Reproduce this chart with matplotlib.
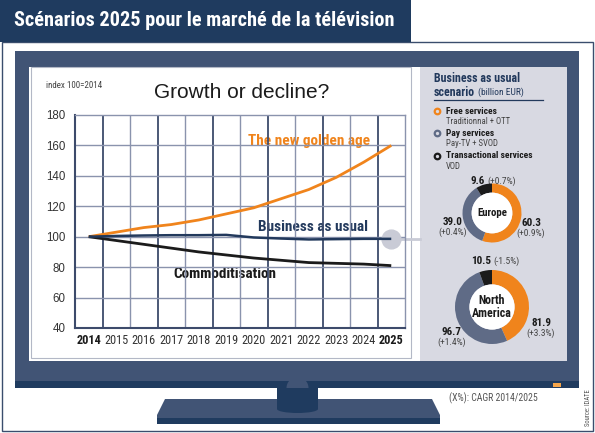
import matplotlib
matplotlib.use("Agg")
import matplotlib.pyplot as plt
from matplotlib import font_manager as fm
from matplotlib.patches import Rectangle, FancyBboxPatch, Polygon, Ellipse, Circle, Wedge
import numpy as np

W, H = 595, 433

# ── Data ─────────────────────────────────────────────────────────────────
years = [2014, 2015, 2016, 2017, 2018, 2019, 2020, 2021, 2022, 2023, 2024, 2025]
golden_age = [100, 103, 106, 108, 111, 115, 119, 125, 131, 139, 149, 160]
business_as_usual = [100, 100.5, 100.8, 101, 101, 101.2, 99.5, 98.8, 98.2, 98.4, 98.6, 98.6]
commoditisation = [100, 97.5, 95, 92.5, 90, 88, 86, 84.5, 83, 82.5, 82, 81]
y_ticks = [40, 60, 80, 100, 120, 140, 160, 180]

services = ["Free services", "Pay services", "Transactional services"]
service_notes = ["Traditionnal + OTT", "Pay-TV + SVOD", "VOD"]
europe_values = [60.3, 39.0, 9.6]
europe_cagr = [0.9, 0.4, 0.7]
na_values = [81.9, 96.7, 10.5]
na_cagr = [3.3, 1.4, -1.5]

# ── Style ────────────────────────────────────────────────────────────────
NAVY = "#1f3b5f"
TV = "#415475"
ORANGE = "#f0841c"
SLATE = "#5f6b86"
BLACK = "#1b1b1b"
PANEL = "#d8d9e2"
GRID_DARK = "#3d4b6b"
GRID_LIGHT = "#8a93ad"
BAU_BLUE = "#22395c"
SERVICE_COLORS = [ORANGE, SLATE, BLACK]
SANS = ["Liberation Sans", "DejaVu Sans"]


def pick_narrow():
    """Find a condensed sans face among the installed fonts."""
    entries = fm.fontManager.ttflist
    names = {e.name for e in entries}
    for pref in ["Liberation Sans Narrow", "DejaVu Sans Condensed", "Roboto Condensed",
                 "Open Sans Condensed", "Noto Sans Condensed"]:
        if pref in names:
            return pref, "normal", 1.0
    for e in entries:
        if "Narrow" in e.name or "Condensed" in e.name:
            return e.name, "normal", 1.0
    for e in entries:
        if str(e.stretch) in ("condensed", "semi-condensed", "extra-condensed"):
            return e.name, e.stretch, 1.0
    return "DejaVu Sans", "normal", 0.8


NARROW_NAME, NARROW_STRETCH, K = pick_narrow()
NK = dict(family=[NARROW_NAME, "DejaVu Sans"], fontstretch=NARROW_STRETCH)


def px_axes(fig, x0, y0, x1, y1):
    """Axes placed by pixel box (y measured from the top)."""
    return fig.add_axes([x0 / W, 1 - y1 / H, (x1 - x0) / W, (y1 - y0) / H])


fig = plt.figure(figsize=(W / 100, H / 100), dpi=100)
bg = fig.add_axes([0, 0, 1, 1])
bg.set_xlim(0, W)
bg.set_ylim(H, 0)
bg.axis("off")

# ── Frame, title tab, TV set ─────────────────────────────────────────────
bg.add_patch(Rectangle((1.5, 41.5), 591.5, 389.5, fc="white", ec="#3a4d6d", lw=1))
bg.add_patch(FancyBboxPatch((0, -12), 411, 54, boxstyle="round,pad=0,rounding_size=9",
                            fc=NAVY, ec="none"))
bg.add_patch(Rectangle((0, 28), 411, 14, fc=NAVY, ec="none"))
bg.text(14, 21, "Scénarios 2025 pour le marché de la télévision", color="white",
        fontsize=14.6 * K, fontweight="bold", va="center", ha="left", **NK)

# stand
bg.add_patch(Polygon([(165, 399), (432, 399), (440, 415), (440, 424), (157, 424), (157, 415)],
                     closed=True, fc=TV, ec="none"))
bg.add_patch(Rectangle((157, 418), 283, 6, fc=NAVY, ec="none"))
bg.add_patch(Rectangle((277, 386), 41, 23, fc=NAVY, ec="none"))
bg.add_patch(Ellipse((297.5, 409), 41, 8, fc=NAVY, ec="none"))

# body + screen
bg.add_patch(Rectangle((15, 51), 564, 337, fc=TV, ec="none"))
bg.add_patch(Rectangle((15, 381), 564, 7, fc=NAVY, ec="none"))
bg.add_patch(Wedge((297.5, 388), 11, 180, 360, fc=TV, ec="none"))
bg.add_patch(Rectangle((553, 383), 8, 4, fc="#f5a54a", ec="none"))
bg.add_patch(Rectangle((29, 67), 538, 294, fc="white", ec="none"))
bg.add_patch(Rectangle((420, 67), 147, 294, fc=PANEL, ec="none"))
bg.add_patch(Rectangle((30.5, 66.5), 380, 291, fc="white", ec="#b3b8c6", lw=0.8))

# ── Line chart ───────────────────────────────────────────────────────────
ax = px_axes(fig, 75, 115, 405, 328)
ax.set_facecolor("none")
ax.set_xlim(years[0] - 0.5, years[-1] + 0.5)
ax.set_ylim(y_ticks[0], y_ticks[-1])

for k, xb in enumerate(np.arange(years[0] + 0.5, years[-1], 1.0)):
    dark = k % 2 == 0
    ax.axvline(xb, color=GRID_DARK if dark else GRID_LIGHT, lw=1.3 if dark else 1.0, zorder=1)
for v in y_ticks[1:-1]:
    ax.axhline(v, color=GRID_LIGHT, lw=1.0, zorder=1)
for sp in ("left", "bottom"):
    ax.spines[sp].set_color(GRID_DARK)
    ax.spines[sp].set_linewidth(1.5)
for sp in ("top", "right"):
    ax.spines[sp].set_color(GRID_LIGHT)
    ax.spines[sp].set_linewidth(1.0)

ax.plot(years, golden_age, color=ORANGE, lw=2.0, zorder=4, solid_capstyle="butt")
ax.plot(years, commoditisation, color=BLACK, lw=2.0, zorder=4, solid_capstyle="butt")
ax.plot(years, business_as_usual, color=BAU_BLUE, lw=1.8, zorder=5, solid_capstyle="butt")
ax.plot(years[-1], business_as_usual[-1], "o", ms=13.5, color="#c9cbd6", zorder=3, clip_on=False)

ax.set_yticks(y_ticks)
ax.set_yticklabels([str(v) for v in y_ticks], family=SANS, fontsize=8.3, color="#333333")
ax.set_xticks(years)
ax.set_xticklabels([str(y) for y in years], fontsize=8.8 * K, color="#333333", **NK)
for lbl in (ax.get_xticklabels()[0], ax.get_xticklabels()[-1]):
    lbl.set_fontweight("bold")
    lbl.set_color(BLACK)
ax.tick_params(axis="y", length=0, pad=7)
ax.tick_params(axis="x", length=0, pad=4)

# connector from the BAU end point to the side panel
end_disp = ax.transData.transform((years[-1], business_as_usual[-1]))
ex, ey = bg.transData.inverted().transform(end_disp)
bg.plot([ex, 420], [ey, ey], color="#c9cbd6", lw=2, zorder=1)

bg.text(46, 85, "index 100=2014", fontsize=6.5 * K, color="#444444", va="center", **NK)
bg.text(242, 92, "Growth or decline?", family=SANS, fontsize=15, color=BLACK,
        ha="center", va="center")
bg.text(248, 141, "The new golden age", fontsize=11 * K, fontweight="bold",
        color=ORANGE, va="center", **NK)
bg.text(258, 227, "Business as usual", fontsize=11 * K, fontweight="bold",
        color=BAU_BLUE, va="center", **NK)
bg.text(173, 274, "Commoditisation", fontsize=11 * K, fontweight="bold",
        color=BLACK, va="center", **NK)

# ── Side panel ───────────────────────────────────────────────────────────
bg.text(434, 79, "Business as usual", fontsize=8.6 * K, fontweight="bold",
        color=BAU_BLUE, va="center", **NK)
scen = bg.text(434, 92, "scenario", fontsize=8.6 * K, fontweight="bold",
               color=BAU_BLUE, va="center", **NK)
renderer = fig.canvas.get_renderer()
scen_end = bg.transData.inverted().transform(scen.get_window_extent(renderer))[1][0]
bg.text(scen_end + 2.5, 92.5, "(billion EUR)", fontsize=6.8 * K, color=BAU_BLUE,
        va="center", **NK)
bg.plot([434, 543], [99.5, 99.5], color=BAU_BLUE, lw=0.9)

for name, note, col, yy in zip(services, service_notes, SERVICE_COLORS, [111, 133, 156]):
    bg.plot(437, yy, "o", ms=4, mfc=PANEL, mec=col, mew=1.6)
    bg.text(446, yy, name, fontsize=6.8 * K, fontweight="bold", color=BLACK, va="center", **NK)
    bg.text(446, yy + 10.5, note, fontsize=6.3 * K, color="#444444", va="center", **NK)


def donut(cx, cy, r, width, values, title, fs):
    dax = px_axes(fig, cx - r, cy - r, cx + r, cy + r)
    dax.pie(values, colors=SERVICE_COLORS, startangle=90, counterclock=False, radius=1,
            wedgeprops=dict(width=width, linewidth=0))
    dax.add_patch(Circle((0, 0), 1 - width, fc="white", ec="none"))
    dax.text(0, 0, title, fontsize=fs * K, fontweight="bold", color=BLACK,
             ha="center", va="center", linespacing=1.05, **NK)
    dax.set_xlim(-1, 1)
    dax.set_ylim(-1, 1)
    dax.axis("off")


def value_label(x, y, val, cagr):
    bg.text(x, y, f"{val:.1f}", fontsize=8 * K, fontweight="bold",
            color=BLACK, ha="center", va="center", **NK)
    bg.text(x, y + 10.5, f"({cagr:+.1f}%)", fontsize=6.8 * K,
            color="#444444", ha="center", va="center", **NK)


def top_label(x, y, val, cagr):
    bg.text(x, y, f"{val:.1f}", fontsize=8 * K, fontweight="bold",
            color=BLACK, ha="right", va="center", **NK)
    bg.text(x + 2, y, f"({cagr:+.1f}%)", fontsize=6.8 * K,
            color="#444444", ha="left", va="center", **NK)


donut(492, 213, 29.5, 0.31, europe_values, "Europe", 7.8)
value_label(531, 223, europe_values[0], europe_cagr[0])
value_label(453, 222, europe_values[1], europe_cagr[1])
top_label(485, 181, europe_values[2], europe_cagr[2])

donut(492, 307, 37, 0.39, na_values, "North\nAmerica", 8.6)
value_label(541, 323, na_values[0], na_cagr[0])
value_label(452, 332, na_values[1], na_cagr[1])
top_label(491, 261, na_values[2], na_cagr[2])

# ── Footer ───────────────────────────────────────────────────────────────
bg.text(449, 398, "(X%): CAGR 2014/2025", fontsize=7 * K, color="#555555",
        va="center", **NK)
bg.text(588, 408, "Source: IDATE", fontsize=4.8 * K, color="#555555",
        rotation=90, ha="center", va="center", **NK)

fig.savefig("out.png", dpi=100)
